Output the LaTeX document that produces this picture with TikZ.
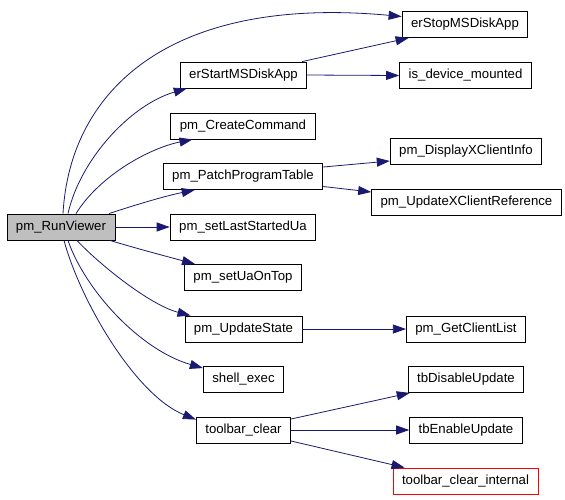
\documentclass[tikz,border=0pt]{standalone}
\usepackage{fontspec}
\setmainfont{Liberation Sans}
\usepackage{tikz}
\usetikzlibrary{arrows.meta,positioning}

\definecolor{callblue}{RGB}{25,25,112}
\definecolor{rootgray}{RGB}{191,191,191}

\begin{document}
\begin{tikzpicture}[x=1pt,y=-1pt,
                    fn/.style={draw,rectangle,inner xsep=9pt,inner ysep=0pt,minimum height=26pt,
                               line width=0.9pt,font=\fontsize{13.2}{15}\selectfont},
                    call/.style={draw=callblue,line width=0.8pt,-{Triangle[length=13pt,width=9pt]}}]
    \useasboundingbox (0,0) rectangle (565,499);

    \node at ( 61  , 227  ) (rv)         [fn,fill=rootgray] {pm\_RunViewer};
    \node at (465  ,  24.5) (stop)       [fn]               {erStopMSDiskApp};
    \node at (243.5,  75  ) (start)      [fn]               {erStartMSDiskApp};
    \node at (465.5,  75.5) (mounted)    [fn]               {is\_device\_mounted};
    \node at (243  , 126  ) (create)     [fn]               {pm\_CreateCommand};
    \node at (243  , 176.5) (patch)      [fn]               {pm\_PatchProgramTable};
    \node at (466  , 151  ) (display)    [fn]               {pm\_DisplayXClientInfo};
    \node at (466.5, 202  ) (xref)       [fn]               {pm\_UpdateXClientReference};
    \node at (243  , 227  ) (lastua)     [fn]               {pm\_setLastStartedUa};
    \node at (243  , 277.5) (ontop)      [fn]               {pm\_setUaOnTop};
    \node at (243.5, 329  ) (state)      [fn]               {pm\_UpdateState};
    \node at (466  , 329  ) (clients)    [fn]               {pm\_GetClientList};
    \node at (243.5, 379.5) (shell)      [fn]               {shell\_exec};
    \node at (243.5, 430  ) (tbclear)    [fn]               {toolbar\_clear};
    \node at (466  , 379.5) (tbdisable)  [fn]               {tbDisableUpdate};
    \node at (466  , 430  ) (tbenable)   [fn]               {tbEnableUpdate};
    \node at (465.5, 481  ) (tbinternal) [fn,draw=red]      {toolbar\_clear\_internal};

    \draw [call] ([xshift=2pt]rv.north)  .. controls ( 70, 90) and (170, -5) .. ([yshift=8pt]stop.west);
    \draw [call] ([xshift=7pt]rv.north)  .. controls ( 80,160) and (130,105) .. ([xshift=7pt]start.south west);
    \draw [call] ([xshift=15pt]rv.north) .. controls (100,175) and (150,148) .. ([xshift=22pt]create.south west);
    \draw [call] ([xshift=48pt]rv.north) .. controls (135,205) and (165,196) .. ([xshift=32pt]patch.south west);
    \draw [call] (rv.east) -- (lastua.west);
    \draw [call] ([xshift=49pt]rv.south) .. controls (135,248) and (165,256) .. ([xshift=11pt]ontop.north west);
    \draw [call] ([xshift=16pt]rv.south) .. controls (100,265) and (150,305) .. ([xshift=6pt]state.north west);
    \draw [call] ([xshift=7pt]rv.south)  .. controls ( 85,290) and (140,350) .. ([yshift=-2pt]shell.north west);
    \draw [call] ([xshift=3pt]rv.south)  .. controls ( 80,300) and (135,395) .. ([yshift=-3pt]tbclear.north west);

    \draw [call] ([xshift=-5pt]start.north east) -- ([xshift=7pt]stop.south west);
    \draw [call] (start.east) -- (mounted.west);
    \draw [call] ([yshift=9.5pt]patch.east) -- ([yshift=-10pt]display.west);
    \draw [call] ([yshift=-10pt]patch.east) -- ([yshift=10pt]xref.west);
    \draw [call] (state.east) -- (clients.west);
    \draw [call] ([yshift=11pt]tbclear.east) -- ([xshift=2pt]tbdisable.south west);
    \draw [call] (tbclear.east) -- (tbenable.west);
    \draw [call] ([yshift=-11pt]tbclear.east) -- ([xshift=12pt]tbinternal.north west);
\end{tikzpicture}
\end{document}
